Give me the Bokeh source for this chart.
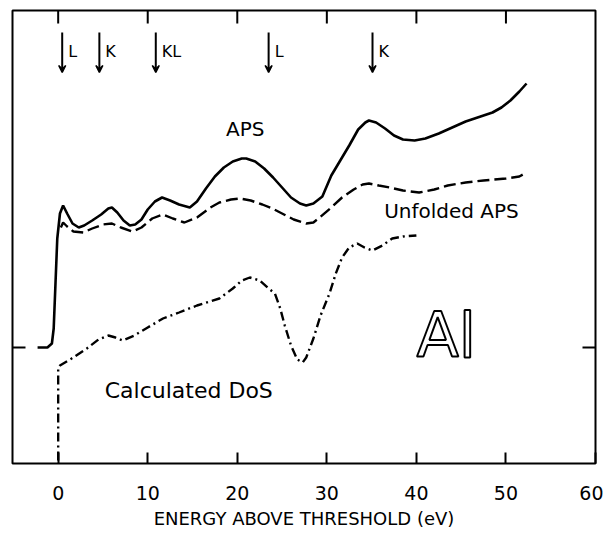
import math
from bokeh.plotting import figure
from bokeh.models import Range1d, FixedTicker, Arrow, VeeHead, Label
from bokeh.embed import file_html
from bokeh.resources import INLINE
from bokeh.core.properties import value

# ---- data (energy above threshold in eV, intensity in arbitrary units) ----
aps_e = [-2.3, -1.2, -0.7, -0.5, -0.3, -0.1, 0.2, 0.55, 1.0, 1.6, 2.3, 2.9, 3.8, 4.8,
         5.6, 6.0, 6.6, 7.3, 8.0, 8.6, 9.3, 10.0, 10.8, 11.6, 12.5, 13.5, 14.7, 15.5,
         16.5, 17.5, 18.5, 19.5, 20.5, 21.0, 22.0, 23.0, 24.0, 25.0, 26.0, 27.0, 27.7,
         28.5, 29.5, 30.5, 31.5, 32.5, 33.5, 34.3, 34.7, 35.5, 36.5, 37.5, 38.5, 39.8,
         41.0, 42.5, 44.0, 45.5, 46.5, 47.5, 48.5, 49.5, 50.5, 51.5, 52.3]
aps_i = [116, 116, 120, 135, 180, 225, 250, 258, 250, 240, 236, 238, 243, 249,
         255, 256, 251, 243, 238, 239, 244, 254, 262, 266, 263, 259, 256, 262,
         275, 287, 296, 302, 305, 305, 302, 295, 286, 276, 266, 260, 258,
         260, 267, 288, 303, 318, 334, 341, 343, 341, 335, 328, 324, 323,
         325, 330, 336, 342, 345, 348, 351, 356, 363, 372, 380]

unf_e = [0.3, 0.55, 1.0, 1.7, 2.8, 3.8, 5.0, 6.0, 7.0, 8.3, 9.3, 10.5, 11.7, 12.8,
         14.1, 15.5, 17.0, 18.0, 19.3, 20.3, 21.5, 22.8, 23.9, 25.0, 26.3, 27.7, 28.5,
         29.2, 30.5, 31.7, 33.0, 34.0, 34.7, 35.8, 37.0, 38.5, 40.3, 42.0, 43.5, 45.5,
         47.5, 50.0, 51.5, 52.3]
unf_i = [236, 241, 237, 232, 231, 235, 239, 240, 236, 232, 236, 245, 249, 245,
         241, 246, 256, 261, 264, 265, 263, 259, 255, 250, 244, 240, 241,
         246, 256, 266, 274, 279, 280, 278, 276, 273, 271, 274, 278, 281,
         283, 285, 287, 291]

dos_e = [0.0, 0.0, 0.2, 1.5, 3.2, 4.5, 5.6, 6.4, 7.2, 8.5, 10.0, 11.7, 13.5, 15.5,
         18.0, 19.5, 20.5, 21.4, 22.5, 23.5, 24.2, 24.8, 25.3, 26.0, 26.7, 27.3, 27.7,
         28.5, 29.3, 30.3, 31.0, 31.7, 32.5, 33.4, 34.2, 35.1, 36.2, 37.3, 38.5, 40.0]
dos_i = [3, 96, 98, 105, 115, 124, 128, 126, 123, 128, 136, 145, 151, 158,
         165, 175, 183, 186, 183, 175, 170, 155, 138, 118, 104, 101, 106,
         125, 148, 170, 190, 206, 216, 220, 216, 213, 218, 225, 227, 228]

edge_e = [0.45, 4.6, 10.9, 23.5, 35.1]
edge_labels = ["L", "K", "KL", "L", "K"]

x_ticks = [0, 10, 20, 30, 40, 50, 60]
top_ticks = [0, 10, 20, 30, 40, 50]
side_ticks = [116]

X_MIN, X_MAX = -5.1, 60.0
Y_MIN, Y_MAX = 0, 453
FONT = "DejaVu Sans"

p = figure(width=603, height=533, output_backend="svg", toolbar_location=None,
           x_range=Range1d(X_MIN, X_MAX), y_range=Range1d(Y_MIN, Y_MAX),
           y_axis_location=None,
           min_border_left=12, min_border_right=8, min_border_top=10,
           min_border_bottom=70, background_fill_color="white",
           border_fill_color="white")
p.grid.visible = False
p.outline_line_color = "black"
p.outline_line_width = 2

# bottom axis (ticks point inward)
xa = p.xaxis[0]
xa.ticker = FixedTicker(ticks=x_ticks)
xa.major_tick_in = 11
xa.major_tick_out = 0
xa.minor_tick_line_color = None
xa.axis_line_color = None
xa.major_tick_line_width = 2
xa.major_label_standoff = 22
xa.major_label_text_font = FONT
xa.major_label_text_font_size = "19px"
xa.major_label_text_color = "black"
xa.axis_label = "ENERGY ABOVE THRESHOLD (eV)"
xa.axis_label_text_font = FONT
xa.axis_label_text_font_style = "normal"
xa.axis_label_text_font_size = "18px"
xa.axis_label_standoff = 5
xa.axis_label_text_color = "black"

# inward ticks on the top edge and on both sides (no labels there)
p.ray(x=top_ticks, y=[Y_MAX] * len(top_ticks), length=13, length_units="screen",
      angle=-math.pi / 2, line_color="black", line_width=2)
p.ray(x=[X_MIN] * len(side_ticks), y=side_ticks, length=13, length_units="screen",
      angle=0, line_color="black", line_width=2)
p.ray(x=[X_MAX] * len(side_ticks), y=side_ticks, length=13, length_units="screen",
      angle=math.pi, line_color="black", line_width=2)

# curves
p.line(aps_e, aps_i, line_color="black", line_width=2.6)
p.line(unf_e, unf_i, line_color="black", line_width=2.4, line_dash="12 5")
p.line(dos_e, dos_i, line_color="black", line_width=2.4, line_dash="9 4 2 4")

# edge arrows
for e in edge_e:
    p.add_layout(Arrow(end=VeeHead(size=7, fill_color="black", line_color="black",
                                   line_width=1.5),
                       x_start=e, x_end=e, y_start=431, y_end=391,
                       line_width=2, line_color="black"))
p.text(x=edge_e, y=[412] * len(edge_e), text=edge_labels, x_offset=6,
       text_baseline="middle", text_align="left", text_font=value(FONT),
       text_font_size="16px", text_color="black")

# curve labels
p.add_layout(Label(x=20.9, y=335, text="APS", text_align="center",
                   text_baseline="middle", text_font=FONT, text_font_size="20px",
                   text_color="black"))
p.add_layout(Label(x=36.4, y=253, text="Unfolded APS", text_align="left",
                   text_baseline="middle", text_font=FONT, text_font_size="20px",
                   text_color="black"))
p.add_layout(Label(x=5.2, y=73, text="Calculated DoS", text_align="left",
                   text_baseline="middle", text_font=FONT, text_font_size="22px",
                   text_color="black"))
p.text(x=[40.0], y=[128], text=["Al"], text_align="left", text_baseline="middle",
       text_font=value(FONT), text_font_size="62px", text_color="white",
       text_outline_color="black")

open("out.html", "w").write(file_html(p, INLINE))
